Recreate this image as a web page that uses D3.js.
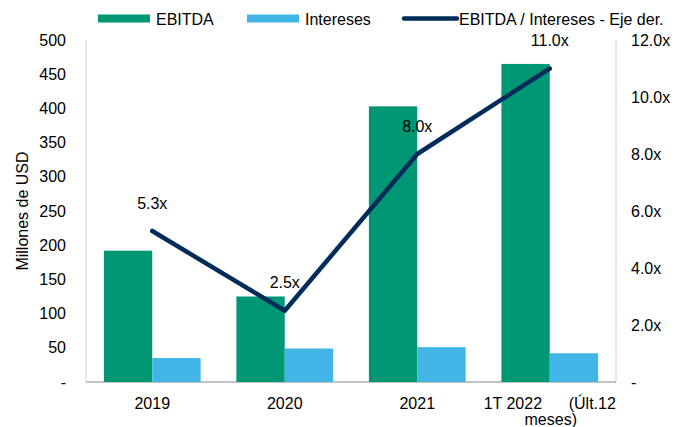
<!DOCTYPE html>
<html>
<head>
<meta charset="utf-8">
<script src="https://cdn.jsdelivr.net/npm/d3@7"></script>
<style>
  body { margin: 0; background: #fff; }
  text { font-family: "Liberation Sans", Arial, sans-serif; fill: #000; }
</style>
</head>
<body>
<script>
var categories = ["2019", "2020", "2021", "1T 2022"]
var ebitda = [192, 125, 403, 465]
var intereses = [35, 49, 51, 42]
var ratio = [5.3, 2.5, 8.0, 11.0]
var leftTicks = [0, 50, 100, 150, 200, 250, 300, 350, 400, 450, 500]
var rightTicks = [0, 2, 4, 6, 8, 10, 12]

var width = 679, height = 427
var margin = {top: 40, right: 63, bottom: 45, left: 86}
var fs = 16

var svg = d3.select('body').append('svg')
    .attr('width', width).attr('height', height)

var x = d3.scaleBand().domain(categories)
    .range([margin.left, width - margin.right])
    .paddingInner(0.27).paddingOuter(0.135)

var xc = d3.scaleBand().domain(categories)
    .range([margin.left, width - margin.right])

var y = d3.scaleLinear().domain([0, 500]).range([height - margin.bottom, margin.top])
var y2 = d3.scaleLinear().domain([0, 12]).range([height - margin.bottom, margin.top])

var green = "#009874", blue = "#41b6e6", navy = "#002c5a"

// axis lines
svg.append('line').attr('x1', margin.left).attr('x2', margin.left)
    .attr('y1', y(500)).attr('y2', y(0)).attr('stroke', '#d0d0d0')
svg.append('line').attr('x1', width - margin.right).attr('x2', width - margin.right)
    .attr('y1', y(500)).attr('y2', y(0)).attr('stroke', '#d0d0d0')
svg.append('line').attr('x1', margin.left).attr('x2', width - margin.right)
    .attr('y1', y(0)).attr('y2', y(0)).attr('stroke', '#888')

var bw = x.bandwidth() / 2

svg.selectAll('.ebitda').data(categories).enter().append('rect')
    .attr('x', function(d) { return x(d); })
    .attr('y', function(d, i) { return y(ebitda[i]); })
    .attr('width', bw)
    .attr('height', function(d, i) { return y(0) - y(ebitda[i]); })
    .attr('fill', green)

svg.selectAll('.int').data(categories).enter().append('rect')
    .attr('x', function(d) { return x(d) + bw; })
    .attr('y', function(d, i) { return y(intereses[i]); })
    .attr('width', bw)
    .attr('height', function(d, i) { return y(0) - y(intereses[i]); })
    .attr('fill', blue)

var line = d3.line()
    .x(function(d, i) { return xc(categories[i]) + xc.bandwidth() / 2; })
    .y(function(d) { return y2(d); })

svg.append('path').datum(ratio)
    .attr('d', line).attr('fill', 'none')
    .attr('stroke', navy).attr('stroke-width', 4.5)
    .attr('stroke-linejoin', 'round').attr('stroke-linecap', 'round')

svg.selectAll('.lbl').data(ratio).enter().append('text')
    .attr('x', function(d, i) { return xc(categories[i]) + xc.bandwidth() / 2; })
    .attr('y', function(d) { return y2(d) - 28; })
    .attr('dy', '0.35em')
    .attr('text-anchor', 'middle').attr('font-size', fs)
    .text(function(d) { return d.toFixed(1) + 'x'; })

// left ticks
svg.selectAll('.lt').data(leftTicks).enter().append('text')
    .attr('x', margin.left - 20).attr('y', function(d) { return y(d); })
    .attr('dy', '0.35em').attr('text-anchor', 'end').attr('font-size', fs)
    .text(function(d) { return d === 0 ? '-' : d; })

// right ticks
svg.selectAll('.rt').data(rightTicks).enter().append('text')
    .attr('x', width - margin.right + 15).attr('y', function(d) { return y2(d); })
    .attr('dy', '0.35em').attr('text-anchor', 'start').attr('font-size', fs)
    .text(function(d) { return d === 0 ? '-' : d.toFixed(1) + 'x'; })

// x labels
svg.selectAll('.xl').data(categories).enter().append('text')
    .attr('x', function(d) { return xc(d) + xc.bandwidth() / 2; })
    .attr('y', 403).attr('dy', '0.35em')
    .attr('text-anchor', 'middle').attr('font-size', fs)
    .attr('xml:space', 'preserve')
    .text(function(d) { return d === '1T 2022' ? '1T 2022      (Últ.12' : d; })

svg.append('text')
    .attr('x', xc('1T 2022') + xc.bandwidth() / 2 + 1).attr('y', 419).attr('dy', '0.35em')
    .attr('text-anchor', 'middle').attr('font-size', fs)
    .text('meses)')

svg.append('text')
    .attr('transform', 'translate(22,211) rotate(-90)')
    .attr('dy', '0.35em').attr('text-anchor', 'middle').attr('font-size', fs)
    .text('Millones de USD')

// legend
var legend = [
  {name: 'EBITDA', color: green, x: 98, type: 'rect'},
  {name: 'Intereses', color: blue, x: 247, type: 'rect'},
  {name: 'EBITDA / Intereses - Eje der.', color: navy, x: 402, type: 'line'}
]
legend.forEach(function(l) {
  if (l.type === 'rect') {
    svg.append('rect').attr('x', l.x).attr('y', 14.5).attr('width', 52).attr('height', 8).attr('fill', l.color)
    svg.append('text').attr('x', l.x + 58).attr('y', 19).attr('dy', '0.35em')
        .attr('font-size', fs).text(l.name)
  } else {
    svg.append('line').attr('x1', l.x + 2).attr('x2', l.x + 55).attr('y1', 18.5).attr('y2', 18.5)
        .attr('stroke', l.color).attr('stroke-width', 4.5).attr('stroke-linecap', 'round')
    svg.append('text').attr('x', l.x + 57).attr('y', 19).attr('dy', '0.35em')
        .attr('font-size', fs).text(l.name)
  }
})
</script>
</body>
</html>
